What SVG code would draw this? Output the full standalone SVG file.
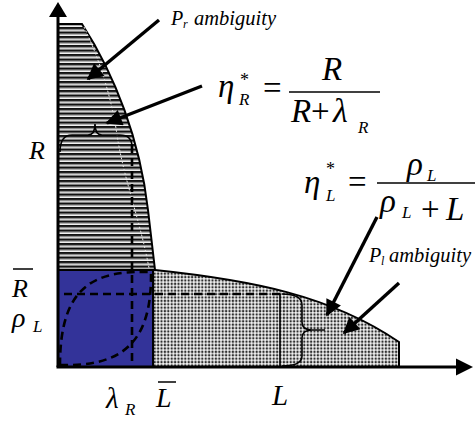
<svg xmlns="http://www.w3.org/2000/svg" width="475" height="421" viewBox="0 0 475 421">
<defs>
<pattern id="stripes" patternUnits="userSpaceOnUse" width="8" height="4.5">
<rect width="8" height="4.5" fill="#f2f2f2"/>
<rect y="0" width="8" height="1.8" fill="#111111"/>
<rect y="1.8" width="8" height="1.3" fill="#7a7a7a"/>
</pattern>
<pattern id="dots" patternUnits="userSpaceOnUse" width="3.4" height="3.4">
<rect width="3.4" height="3.4" fill="#f2f2f2"/>
<circle cx="1.7" cy="1.7" r="1.2" fill="#303030"/>
</pattern>
<marker id="ah" viewBox="0 0 10 10" refX="9" refY="5" markerWidth="6" markerHeight="4.8" orient="auto" markerUnits="strokeWidth">
<path d="M0,0 L10,5 L0,10 Z" fill="#000"/>
</marker>
</defs>
<style>
.ol{stroke:#000;stroke-width:2;}
.dash{fill:none;stroke:#000;stroke-width:2.6;stroke-dasharray:8 5;}
.thin{fill:none;stroke:#000;stroke-width:1.6;}
.arr{fill:none;stroke:#000;stroke-width:3.4;marker-end:url(#ah);}
.it{font-family:"Liberation Serif","Times New Roman",serif;font-style:italic;fill:#000;}
.rm{font-family:"Liberation Serif","Times New Roman",serif;fill:#000;}
</style>

<g id="pr-region">
<path d="M58,24 L82,24 C115,75 140,140 148,210 L155,270 L58,270 Z" fill="url(#stripes)" class="ol"/>
<path d="M84,27 C100,60 112,100 117,135 C124,180 140,220 149,268" fill="none" stroke="#e4e4e4" stroke-width="1" stroke-dasharray="2 2"/>
</g>
<g id="pl-region">
<path d="M153,270 L155,270 C250,280 330,295 399,342 L399,367 L153,367 Z" fill="url(#dots)" class="ol" stroke-width="1.8"/>
</g>
<g id="blue-region">
<rect x="58" y="270" width="95" height="97" fill="#333399" class="ol"/>
</g>

<g id="connectors">
<path class="dash" d="M60,365 C125,367 152,340 151,272 C95,270 60,285 60,365 Z"/>
<path class="dash" d="M132,145 L132,367"/>
<path class="dash" d="M64,294 L280,294"/>
<path class="thin" d="M280,294 L280,367"/>
<path class="thin" d="M60,152 Q60,135 72,135 L88,135 Q95,135 95,124 Q95,135 102,135 L120,135 Q132,135 132,147"/>
<path class="thin" d="M282,294 Q302,294 302,305 L302,322 Q302,330 312,330 L325,330 M312,330 Q302,330 302,338 L302,356 Q302,366 282,366"/>
<path class="arr" d="M159,20 L88,79"/>
<path class="arr" d="M202,86 L107,123"/>
<path class="arr" d="M377,217 L327,315"/>
<path class="arr" d="M399,283 L344,333"/>
</g>

<g id="axes">
<path d="M58,367 L58,16" stroke="#000" stroke-width="3"/>
<path d="M49,17 L58,2 L67,17 Z" fill="#000"/>
<path d="M56.5,367 L457,367" stroke="#000" stroke-width="3"/>
<path d="M456,358.5 L473,367 L456,375.5 Z" fill="#000"/>
</g>

<g id="labels">
<text class="it" x="171" y="25" font-size="20">P</text>
<text class="it" x="183" y="28" font-size="12">r</text>
<text class="it" x="194" y="25" font-size="20.5">ambiguity</text>
<text class="it" x="369" y="262" font-size="20">P</text>
<text class="it" x="381" y="265" font-size="12">l</text>
<text class="it" x="389" y="262" font-size="20.5">ambiguity</text>

<text class="it" x="29" y="159" font-size="26">R</text>
<text class="it" x="12" y="297" font-size="26">R</text>
<path d="M13,269 L33,269" stroke="#000" stroke-width="1.5"/>
<text class="it" x="12" y="327" font-size="28">ρ</text>
<text class="it" x="33" y="332" font-size="17">L</text>
<text class="it" x="106" y="408" font-size="29">λ</text>
<text class="it" x="125" y="415" font-size="17">R</text>
<text class="it" x="156" y="407" font-size="28">L</text>
<path d="M158,382 L176,382" stroke="#000" stroke-width="1.5"/>
<text class="it" x="272" y="405" font-size="29">L</text>
</g>

<g id="eta-R">
<text class="it" x="218" y="97" font-size="33">η</text>
<text class="it" x="239" y="105" font-size="17">R</text>
<text class="rm" x="240" y="86" font-size="18">*</text>
<text class="rm" x="263" y="99" font-size="33">=</text>
<path d="M289,92 L380,92" stroke="#000" stroke-width="1.5"/>
<text class="it" x="322" y="80" font-size="33">R</text>
<text class="it" x="291" y="122" font-size="33">R</text>
<text class="rm" x="311" y="122" font-size="33">+</text>
<text class="it" x="333" y="122" font-size="34">λ</text>
<text class="it" x="358" y="133" font-size="17">R</text>
</g>

<g id="eta-L">
<text class="it" x="304" y="193" font-size="33">η</text>
<text class="it" x="326" y="201" font-size="17">L</text>
<text class="rm" x="326" y="175" font-size="18">*</text>
<text class="rm" x="348" y="193" font-size="33">=</text>
<path d="M377,183 L475,183" stroke="#000" stroke-width="1.5"/>
<text class="it" x="407" y="175" font-size="33">ρ</text>
<text class="it" x="427" y="181" font-size="17">L</text>
<text class="it" x="380" y="212" font-size="33">ρ</text>
<text class="it" x="402" y="218" font-size="17">L</text>
<text class="rm" x="421" y="220" font-size="33">+</text>
<text class="it" x="446" y="220" font-size="33">L</text>
</g>
</svg>
